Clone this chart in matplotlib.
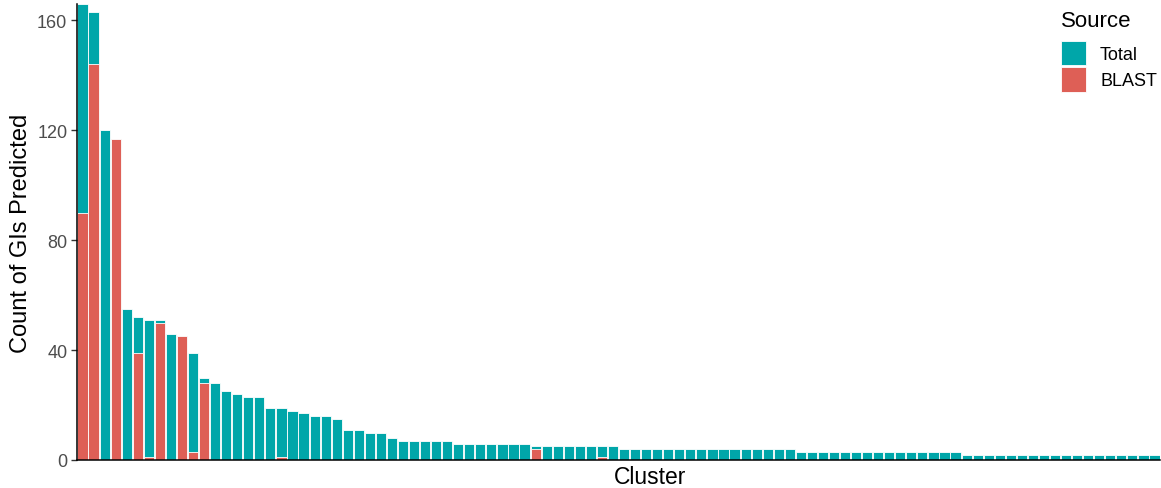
import numpy as np
import matplotlib
matplotlib.use("Agg")
import matplotlib.pyplot as plt
from matplotlib.patches import Patch

plt.rcParams["font.family"] = ["Liberation Sans", "DejaVu Sans"]

# GI counts per cluster, sorted descending
total = ([166, 163, 120, 117, 55, 52, 51, 51, 46, 45, 39, 30, 28, 25, 24, 23, 23,
          19, 19, 18, 17, 16, 16, 15, 11, 11, 10, 10, 8]
         + [7] * 5 + [6] * 7 + [5] * 8 + [4] * 16 + [3] * 15 + [2] * 18)
blast_idx = [1, 2, 4, 6, 7, 8, 10, 11, 12, 19, 42, 48]
blast_val = [90, 144, 117, 39, 1, 50, 45, 3, 28, 1, 4, 1]

blast = [0] * len(total)
for i, v in zip(blast_idx, blast_val):
    blast[i - 1] = v

teal = "#00A6A9"
red = "#DE5F56"

W, H = 1161, 489
fig = plt.figure(figsize=(W / 100, H / 100), dpi=100)
ax = fig.add_axes([77 / W, (H - 461) / H, (1160 - 77) / W, (461 - 5) / H])

x = np.arange(1, len(total) + 1)
ax.bar(x, total, width=0.92, color=teal, edgecolor="white", linewidth=0.6)
ax.bar(x, blast, width=0.92, color=red, edgecolor="white", linewidth=0.6)

ax.set_xlim(0.5, len(total) + 0.5)
ax.set_ylim(0, 166)
ax.set_yticks([0, 40, 80, 120, 160])
ax.set_xticks([])
ax.tick_params(axis="y", labelsize=13, labelcolor="#4D4D4D", length=4, width=1,
               color="#333333", pad=3)
for s in ["top", "right"]:
    ax.spines[s].set_visible(False)
for s in ["left", "bottom"]:
    ax.spines[s].set_linewidth(1.1)

ax.set_ylabel("Count of GIs Predicted", fontsize=17, va="center")
ax.yaxis.set_label_coords((21 - 77) / 1083, 0.5)
ax.set_xlabel("Cluster", fontsize=16.5, va="center")
ax.xaxis.set_label_coords((650 - 77) / 1083, (461 - 478) / 456)

# legend: title as plain text, keys via fig.legend
fig.text(1061 / W, 1 - 27 / H, "Source", fontsize=16, ha="left", va="baseline")
handles = [Patch(facecolor=teal, edgecolor="white", linewidth=0.6, label="Total"),
           Patch(facecolor=red, edgecolor="white", linewidth=0.6, label="BLAST")]
fig.legend(handles=handles, loc="upper left", bbox_to_anchor=(1061 / W, 1 - 41.5 / H),
           frameon=False, fontsize=13, handlelength=1.385, handleheight=1.75,
           labelspacing=0.09, handletextpad=0.78, borderpad=0, borderaxespad=0)

fig.savefig("out.png", dpi=100)
